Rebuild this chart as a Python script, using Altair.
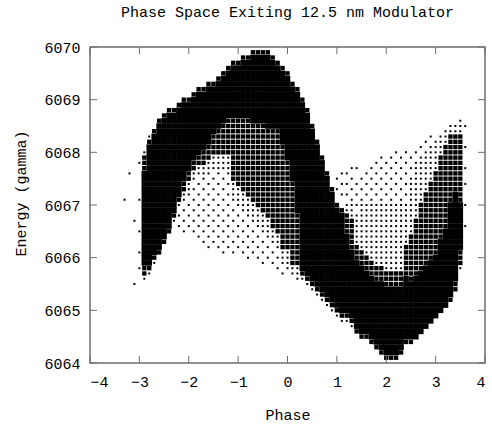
import altair as alt
import pandas as pd

# Phase columns (bin centres), 0.1 rad apart
phase_cols = [-3.3, -3.2, -3.1, -3.0,
              -2.9, -2.8, -2.7, -2.6, -2.5, -2.4, -2.3, -2.2, -2.1, -2.0,
              -1.9, -1.8, -1.7, -1.6, -1.5, -1.4, -1.3, -1.2, -1.1, -1.0,
              -0.9, -0.8, -0.7, -0.6, -0.5, -0.4, -0.3, -0.2, -0.1,
              0.0, 0.1, 0.2, 0.3, 0.4, 0.5, 0.6, 0.7, 0.8, 0.9,
              1.0, 1.1, 1.2, 1.3, 1.4, 1.5, 1.6, 1.7, 1.8, 1.9,
              2.0, 2.1, 2.2, 2.3, 2.4, 2.5, 2.6, 2.7, 2.8, 2.9,
              3.0, 3.1, 3.2, 3.3, 3.4, 3.5, 3.6]

# Energy rows (bin centres), top to bottom
energy_rows = [6069.9, 6069.8, 6069.7, 6069.6, 6069.5, 6069.4, 6069.3, 6069.2, 6069.1, 6069.0,
               6068.9, 6068.8, 6068.7, 6068.6, 6068.5, 6068.4, 6068.3, 6068.2, 6068.1, 6068.0,
               6067.9, 6067.8, 6067.7, 6067.6, 6067.5, 6067.4, 6067.3, 6067.2, 6067.1, 6067.0,
               6066.9, 6066.8, 6066.7, 6066.6, 6066.5, 6066.4, 6066.3, 6066.2, 6066.1, 6066.0,
               6065.9, 6065.8, 6065.7, 6065.6, 6065.5, 6065.4, 6065.3, 6065.2, 6065.1, 6065.0,
               6064.9, 6064.8, 6064.7, 6064.6, 6064.5, 6064.4, 6064.3, 6064.2, 6064.1]

# Particle density per column, run-length coded from the top row:
# "_" empty, ":" scattered, "." sparse, "+" medium, "#" dense
column_runs = [
    "28_ 1.",
    "23_ 1.",
    "32_ 1. 11_ 1.",
    "21_ 1. 6_ 1. 5_ 1. 3_ 1. 2_ 1.",
    "19_ 1. 3+ 18# 2+ 1.",
    "16_ 1. 1+ 23# 1+ 1.",
    "15_ 1+ 23# 1+ 1.",
    "13_ 1+ 24# 1+",
    "12_ 1+ 23# 1+",
    "11_ 1+ 22# 1+",
    "11_ 1+ 19# 1+ 1.",
    "10_ 1+ 17# 1+ 1. 4:",
    "9_ 1+ 15# 2+ 1. 7:",
    "9_ 1+ 13# 2+ 2. 8:",
    "8_ 1+ 12# 2+ 2. 11:",
    "7_ 1+ 12# 2+ 2. 13:",
    "7_ 1+ 11# 3+ 2. 13:",
    "6_ 1+ 11# 3+ 3. 14:",
    "6_ 1+ 9# 4+ 3. 15:",
    "5_ 1+ 9# 5+ 3. 15:",
    "4_ 1+ 9# 6+ 3. 16:",
    "3_ 1+ 9# 7+ 4. 15:",
    "2_ 1+ 10# 12+ 4. 10:",
    "2_ 1+ 10# 13+ 4. 9:",
    "1_ 1+ 11# 14+ 4. 9:",
    "1_ 1+ 11# 15+ 4. 8:",
    "1+ 13# 15+ 4. 7:",
    "1+ 13# 16+ 4. 6:",
    "1+ 13# 17+ 4. 6:",
    "1+ 14# 17+ 4. 5:",
    "1_ 1+ 13# 19+ 3. 4:",
    "2_ 1+ 12# 20+ 3. 4:",
    "3_ 1+ 14# 20+ 3. 2:",
    "4_ 1+ 16# 17+ 3. 2:",
    "6_ 1+ 18# 16+ 2. 1:",
    "7_ 1+ 23# 10+ 2. 1:",
    "9_ 1+ 32# 1+ 1.",
    "11_ 1+ 31# 1+ 1.",
    "14_ 1+ 29# 1+ 1.",
    "17_ 1+ 27# 1+ 1.",
    "20_ 1+ 25# 1+ 1.",
    "23_ 1+ 23# 1+ 1.",
    "26_ 1+ 21# 1+ 1.",
    "24_ 1. 1_ 1. 2_ 1+ 19# 1+ 1.",
    "23_ 1. 1_ 1. 1_ 1. 2_ 1+ 19# 1+ 1.",
    "22_ 7: 2. 4+ 15# 1+ 1.",
    "21_ 8: 3. 6+ 13# 1+ 1.",
    "22_ 1. 1_ 7: 6. 3+ 13# 1+",
    "23_ 6: 9. 3+ 13# 1+",
    "22_ 7: 10. 3+ 12# 1+",
    "21_ 8: 11. 3+ 12# 1+",
    "21_ 8: 12. 3+ 12# 1+",
    "20_ 9: 12. 3+ 13# 1+",
    "20_ 9: 13. 3+ 13# 1+",
    "19_ 10: 13. 3+ 13# 1+",
    "19_ 10: 13. 3+ 13# 1+",
    "19_ 10: 13. 3+ 12# 1+",
    "18_ 11: 8. 6+ 12# 1+",
    "19_ 6: 10. 9+ 11# 1+",
    "18_ 4: 10. 11+ 12#",
    "18_ 3: 8. 13+ 12#",
    "17_ 2: 8. 14+ 12#",
    "16_ 2: 7. 15+ 12#",
    "17_ 6. 16+ 12#",
    "16_ 4. 16+ 14#",
    "15_ 3. 16+ 15#",
    "14_ 2. 13+ 18# 1+",
    "14_ 2. 11+ 17# 2+",
    "13_ 3. 13+ 9# 3+ 1.",
    "14_ 1. 3_ 1. 3_ 1. 2_ 1. 3_ 1. 3_ 1.",
]

x_ticks = [-4, -3, -2, -1, 0, 1, 2, 3, 4]
y_ticks = [6064, 6065, 6066, 6067, 6068, 6069, 6070]

# marker area per density level (style, not data)
SIZES = {"#": 31, "+": 19, ".": 4, ":": 4}

recs = []
for ci, (p, runs) in enumerate(zip(phase_cols, column_runs)):
    r = 0
    for tok in runs.split():
        n, ch = int(tok[:-1]), tok[-1]
        for _ in range(n):
            if r < len(energy_rows) and ch != "_":
                if ch != ":" or (r + ci) % 2 == 0:
                    recs.append({"phase": p, "energy": energy_rows[r], "s": SIZES[ch]})
            r += 1
df = pd.DataFrame(recs)

FONT = "Courier New, Liberation Mono, monospace"
W, H = 395, 316
TICK = 7
FRAME = "#6e6e6e"

xs = alt.Scale(domain=[-4, 4], nice=False, zero=False)
ys = alt.Scale(domain=[6064, 6070], nice=False, zero=False)

points = alt.Chart(df).mark_square(color="black", opacity=1, strokeWidth=0).encode(
    x=alt.X("phase:Q", scale=xs,
            axis=alt.Axis(values=x_ticks, title="Phase", format="d", ticks=False,
                          domain=False, grid=False, labelPadding=11,
                          titleY=51, titleBaseline="middle")),
    y=alt.Y("energy:Q", scale=ys,
            axis=alt.Axis(values=y_ticks, title="Energy (gamma)", format="d", ticks=False,
                          domain=False, grid=False, labelPadding=10,
                          titleX=-70, titleY=146, titleBaseline="middle",
                          titleAlign="center", titleAngle=270)),
    size=alt.Size("s:Q", scale=None, legend=None),
)

xt = pd.DataFrame({"phase": x_ticks})
yt = pd.DataFrame({"energy": y_ticks})

tick_bottom = alt.Chart(xt).mark_rule(color=FRAME, strokeWidth=1).encode(
    x=alt.X("phase:Q", scale=xs), y=alt.value(H), y2=alt.value(H - TICK))
tick_top = alt.Chart(xt).mark_rule(color=FRAME, strokeWidth=1).encode(
    x=alt.X("phase:Q", scale=xs), y=alt.value(0), y2=alt.value(TICK))
tick_left = alt.Chart(yt).mark_rule(color=FRAME, strokeWidth=1).encode(
    y=alt.Y("energy:Q", scale=ys), x=alt.value(0), x2=alt.value(TICK))
tick_right = alt.Chart(yt).mark_rule(color=FRAME, strokeWidth=1).encode(
    y=alt.Y("energy:Q", scale=ys), x=alt.value(W), x2=alt.value(W - TICK))

chart = alt.layer(points, tick_bottom, tick_top, tick_left, tick_right).properties(
    width=W, height=H,
    autosize="none",
    background="white",
    padding={"left": 90, "top": 47, "right": 7, "bottom": 62},
    title=alt.TitleParams("Phase Space Exiting 12.5 nm Modulator", font=FONT,
                          fontSize=15, fontWeight="normal", color="black",
                          anchor="middle", offset=20),
).configure_axis(
    labelFont=FONT, titleFont=FONT, labelFontSize=15, titleFontSize=15,
    labelColor="black", titleColor="black", titleFontWeight="normal",
).configure_view(
    stroke=FRAME, strokeWidth=1.5,
)

chart.save("out.html", embed_options={"renderer": "svg", "actions": False})
